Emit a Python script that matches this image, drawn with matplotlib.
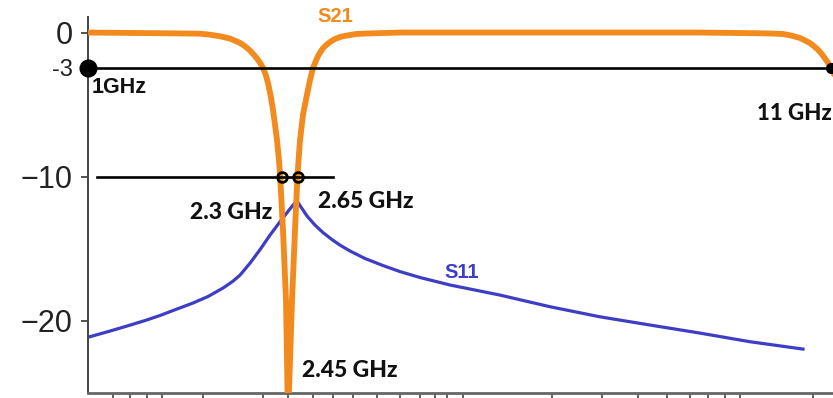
import numpy as np
import matplotlib
matplotlib.use("Agg")
import matplotlib.pyplot as plt

# frequency axis of the original is not uniform: anchor frequencies (GHz) -> axis position
axis_freq = [1.0, 2.3, 2.45, 2.65, 11.0, 12.0]
axis_pos = [0.0, 194.0, 200.0, 210.0, 743.0, 807.0]

# S21 (dB)
s21_freq = [1.0, 1.214, 1.415, 1.616, 1.751, 1.818, 1.885, 1.952, 2.019, 2.052,
            2.086, 2.112, 2.132, 2.153, 2.173, 2.193, 2.206, 2.226, 2.240, 2.253,
            2.267, 2.280, 2.287, 2.325, 2.40, 2.45, 2.53, 2.59, 2.64,
            2.681, 2.728, 2.791, 2.838, 2.885, 2.932, 2.963, 2.995, 3.042, 3.089,
            3.151, 3.214, 3.308, 3.386, 3.465, 3.559, 3.700, 4.248, 6.0, 8.948,
            9.888, 10.091, 10.248, 10.389, 10.514, 10.593, 10.671, 10.734,
            10.796, 10.843, 10.890, 10.953, 11.0, 11.047, 11.110]
s21_db = [0.0, -0.02, -0.04, -0.06, -0.08, -0.15, -0.26, -0.42, -0.72, -0.95,
          -1.25, -1.55, -1.8, -2.1, -2.46, -3.0, -3.5, -4.5, -5.4, -6.4,
          -7.5, -8.9, -9.9, -13.7, -18.6, -27.0, -18.6, -13.7, -9.9,
          -7.5, -5.7, -4.3, -3.3, -2.46, -1.95, -1.63, -1.4, -1.08, -0.88,
          -0.66, -0.48, -0.31, -0.23, -0.17, -0.1, -0.07, 0.0, 0.0, 0.0,
          -0.05, -0.07, -0.1, -0.22, -0.38, -0.55, -0.73, -0.95,
          -1.2, -1.42, -1.7, -2.1, -2.46, -2.9, -3.6]

# S11 (dB)
s11_freq = [1.013, 1.147, 1.261, 1.382, 1.482, 1.596, 1.704, 1.804, 1.905, 1.972,
            2.019, 2.086, 2.153, 2.220, 2.287, 2.47, 2.624, 2.681, 2.791, 2.916,
            3.042, 3.183, 3.308, 3.465, 3.700, 3.982, 4.248, 4.561, 5.031, 5.814,
            6.598, 7.381, 8.164, 8.948, 9.731, 10.561]
s11_db = [-21.12, -20.73, -20.38, -20.0, -19.65, -19.20, -18.78, -18.33, -17.74, -17.26,
          -16.84, -16.01, -15.07, -14.06, -13.13, -12.33, -11.67, -12.01, -12.74, -13.37,
          -13.89, -14.38, -14.76, -15.17, -15.69, -16.18, -16.60, -17.01, -17.53, -18.23,
          -19.04, -19.74, -20.31, -20.87, -21.47, -21.98]

level_3db = -2.46          # where the "-3" line sits in the picture
band_3db = [1.0, 11.0]
level_10db = -10.0
band_10db = [2.3, 2.65]
line_10db_span = [1.06, 3.198]

ytick_vals = [0, level_3db, -10, -20]
ytick_labels = ["0", "-3", "\u221210", "\u221220"]
xtick_freqs = [1.168, 1.281, 1.395, 1.496, 1.771, 2.173, 2.45, 2.885, 3.198,
               3.512, 3.888, 4.248, 4.561, 4.796, 4.984, 5.235, 6.629, 7.412,
               7.976, 8.431, 8.791, 9.073, 9.339, 9.574, 10.718]

orange = "#F28A1E"
blue = "#3D3DC6"


def fwd(f):
    return np.interp(f, axis_freq, axis_pos)


def inv(p):
    return np.interp(p, axis_pos, axis_freq)


fig = plt.figure(figsize=(8.33, 3.98), dpi=100)
ax = fig.add_axes([88 / 833, 5 / 398, 745 / 833, 376 / 398])
ax.set_xscale("function", functions=(fwd, inv))
ax.set_xlim(1.0, 11.031)
ax.set_ylim(-25.03, 1.08)

ax.plot(s11_freq, s11_db, color=blue, lw=2.3, zorder=2)
ax.plot(s21_freq, s21_db, color=orange, lw=4.2, zorder=3, solid_capstyle="round")

ax.plot(band_3db, [level_3db, level_3db], color="black", lw=1.9, zorder=4, clip_on=False)
ax.plot(line_10db_span, [level_10db, level_10db], color="black", lw=1.9, zorder=4)
ax.plot([band_3db[0]], [level_3db], "o", color="black", ms=12, zorder=5, clip_on=False)
ax.plot([band_3db[1]], [level_3db], "o", color="black", ms=7, zorder=5, clip_on=False)
ax.plot(band_10db, [level_10db] * 2, "o", mfc="none", mec="black", ms=7, mew=2, zorder=5)

lab = dict(family=["Lato", "DejaVu Sans"], fontweight=900, fontsize=16.5,
           color="#111111", va="center")
ax.text(1.027, -3.85, "1GHz", family="Liberation Sans", fontweight="bold",
        fontsize=15.5, color="#111111", va="center")
ax.text(11.016, -5.59, "11 GHz", ha="right", clip_on=False,
        **dict(lab, fontsize=16))
ax.text(2.233, -12.53, "2.3 GHz", ha="right", **lab)
ax.text(2.963, -11.7, "2.65 GHz", **lab)
ax.text(2.713, -23.44, "2.45 GHz", **lab)
ax.text(2.948, 1.08, "S21", family="Liberation Sans", fontweight="bold",
        fontsize=14.5, color=orange, va="center", clip_on=False)
ax.text(4.937, -16.63, "S11", family="Liberation Sans", fontweight="bold",
        fontsize=14.5, color=blue, va="center")

ax.set_yticks(ytick_vals)
ax.set_yticklabels(ytick_labels, family="Liberation Sans", color="#222222")
for t in ax.get_yticklabels():
    t.set_fontsize(17 if t.get_text() == "-3" else 22)
ax.tick_params(axis="y", length=5, width=1.3, color="#444444", pad=6)
ax.set_xticks(xtick_freqs)
ax.set_xticklabels([])
ax.tick_params(axis="x", length=5, width=1.3, color="#555555")

for side in ["top", "right"]:
    ax.spines[side].set_visible(False)
ax.spines["left"].set_color("#444444")
ax.spines["left"].set_linewidth(1.4)
ax.spines["bottom"].set_color("#666666")
ax.spines["bottom"].set_linewidth(2)

fig.savefig("out.png", dpi=100)
